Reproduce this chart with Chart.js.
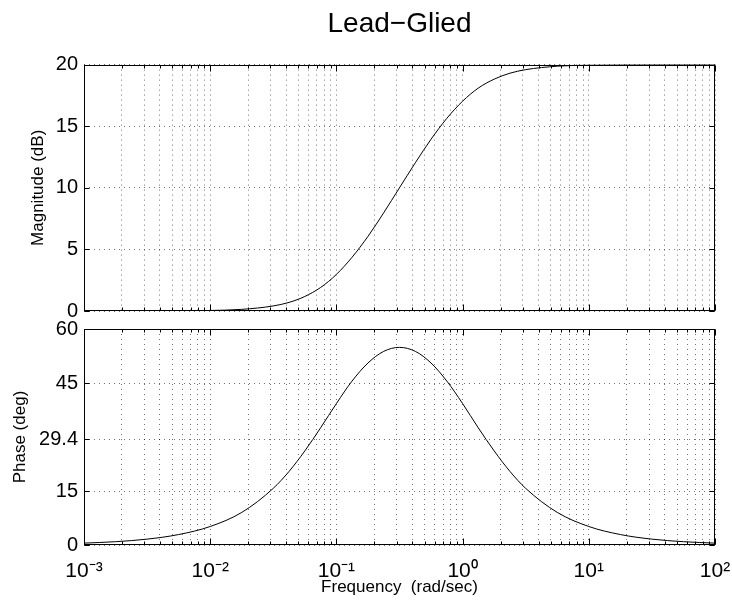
<!DOCTYPE html>
<html>
<head>
<meta charset="utf-8">
<script src="https://cdn.jsdelivr.net/npm/chart.js@4/dist/chart.umd.min.js"></script>
<style>
  body { margin: 0; background: #fff; }
  .panel { position: absolute; left: 0; }
</style>
</head>
<body>
<div class="panel" style="top:0"><canvas id="mag" width="732" height="326"></canvas></div>
<div class="panel" style="top:312px"><canvas id="phase" width="732" height="296"></canvas></div>
<script>
// frequency points (rad/sec)
const freq = [0.001, 0.00178, 0.00316, 0.00562, 0.01, 0.0178, 0.0316, 0.0422, 0.0562, 0.075,
  0.1, 0.133, 0.178, 0.237, 0.316, 0.422, 0.562, 0.75, 1, 1.33,
  1.78, 2.37, 3.16, 5.62, 10, 17.8, 31.6, 56.2, 100];
const magnitude = [0.0004, 0.0014, 0.0043, 0.014, 0.043, 0.134, 0.41, 0.70, 1.18, 1.91,
  2.97, 4.36, 6.06, 7.97, 10.0, 12.03, 13.94, 15.64, 17.03, 18.09,
  18.82, 19.30, 19.59, 19.87, 19.96, 19.99, 20.0, 20.0, 20.0];
const phase = [0.52, 0.92, 1.63, 2.90, 5.14, 9.06, 15.74, 20.46, 26.13, 32.57,
  39.29, 45.53, 50.56, 53.79, 54.90, 53.79, 50.56, 45.53, 39.29, 32.57,
  26.13, 20.46, 15.74, 9.06, 5.14, 2.90, 1.63, 0.92, 0.52];

const magTicks = [0, 5, 10, 15, 20];
const phaseTicks = [0, 15, 29.4, 45, 60];
const decades = [-3, -2, -1, 0, 1, 2];

const FONT = "'Liberation Sans', Arial, Helvetica, sans-serif";
const SUP = { "-": "\u207B", "0": "\u2070", "1": "\u00B9", "2": "\u00B2", "3": "\u00B3" };

// all log ticks: 1..9 x 10^k
const logTicks = [];
decades.forEach((d, i) => {
  const last = i === decades.length - 1;
  for (let m = 1; m <= (last ? 1 : 9); m++) logTicks.push(m * Math.pow(10, d));
});
const isDecade = (v) => Math.abs(Math.log10(v) - Math.round(Math.log10(v))) < 1e-6;

// labels may hang over the plot edges, don't let them shrink the plot
const noPad = (scale) => {
  scale.paddingTop = 0; scale.paddingBottom = 0;
  scale.paddingLeft = 0; scale.paddingRight = 0;
};

// box round the plot area + inward tick marks, like matlab
const boxPlugin = {
  id: "box",
  afterDraw(chart) {
    const { ctx, chartArea: a, scales } = chart;
    const L = Math.round(a.left) + 0.5, R = Math.round(a.right) - 0.5;
    const T = Math.round(a.top) + 0.5, B = Math.round(a.bottom) - 0.5;
    ctx.save();
    ctx.strokeStyle = "#000";
    ctx.lineWidth = 1;
    ctx.setLineDash([]);
    ctx.beginPath();
    scales.x.ticks.forEach((t) => {
      const px = Math.round(scales.x.getPixelForValue(t.value)) + 0.5;
      const len = isDecade(t.value) ? 6 : 3;
      ctx.moveTo(px, B); ctx.lineTo(px, B - len);
      ctx.moveTo(px, T); ctx.lineTo(px, T + len);
    });
    scales.y.ticks.forEach((t) => {
      const py = Math.round(scales.y.getPixelForValue(t.value)) + 0.5;
      ctx.moveTo(L, py); ctx.lineTo(L + 5, py);
      ctx.moveTo(R, py); ctx.lineTo(R - 5, py);
    });
    ctx.stroke();
    ctx.strokeRect(L, T, R - L, B - T);
    ctx.restore();
  }
};

function xScale(showLabels) {
  return {
    type: "logarithmic",
    min: 0.001,
    max: 100,
    afterBuildTicks: (scale) => { scale.ticks = logTicks.map((v) => ({ value: v })); },
    afterFit: (scale) => { scale.height = showLabels ? 63 : 0; noPad(scale); },
    grid: { color: "rgba(0,0,0,0.55)", lineWidth: 1, drawTicks: false },
    border: { display: false, dash: [1, 4] },
    ticks: {
      display: showLabels,
      autoSkip: false,
      maxRotation: 0,
      padding: 14,
      color: "#000",
      font: { family: FONT, size: 21 },
      callback: (v) => {
        if (!isDecade(v)) return "";
        const e = String(Math.round(Math.log10(v)));
        return "10" + e.split("").map((c) => SUP[c]).join("");
      }
    },
    title: {
      display: showLabels,
      text: "Frequency  (rad/sec)",
      color: "#000",
      font: { family: FONT, size: 17 },
      padding: { top: 2, bottom: 10 }
    }
  };
}

function yScale(max, ticks, label, titlePad) {
  return {
    min: 0,
    max: max,
    afterBuildTicks: (scale) => { scale.ticks = ticks.map((v) => ({ value: v })); },
    afterFit: (scale) => { scale.width = 84; noPad(scale); },
    grid: { color: "rgba(0,0,0,0.55)", lineWidth: 1, drawTicks: false },
    border: { display: false, dash: [1, 4] },
    ticks: {
      padding: 6,
      color: "#000",
      font: { family: FONT, size: 20 },
      callback: (v) => String(v)
    },
    title: {
      display: true,
      text: label,
      color: "#000",
      font: { family: FONT, size: 17 },
      padding: { top: titlePad, bottom: 0 }
    }
  };
}

function lineData(values) {
  return {
    datasets: [{
      data: freq.map((f, i) => ({ x: f, y: values[i] })),
      borderColor: "#000",
      borderWidth: 1,
      pointRadius: 0,
      fill: false,
      cubicInterpolationMode: "monotone"
    }]
  };
}

new Chart(document.getElementById("mag"), {
  type: "line",
  data: lineData(magnitude),
  plugins: [boxPlugin],
  options: {
    responsive: false,
    animation: false,
    layout: { padding: { left: 0, right: 17, top: 0, bottom: 15 } },
    plugins: {
      legend: { display: false },
      tooltip: { enabled: false },
      title: {
        display: true,
        fullSize: false,
        text: "Lead\u2212Glied",
        color: "#000",
        font: { family: FONT, size: 28, weight: "normal" },
        padding: { top: 7, bottom: 24 }
      }
    },
    scales: {
      x: xScale(false),
      y: yScale(20, magTicks, "Magnitude (dB)", 28)
    }
  }
});

new Chart(document.getElementById("phase"), {
  type: "line",
  data: lineData(phase),
  plugins: [boxPlugin],
  options: {
    responsive: false,
    animation: false,
    layout: { padding: { left: 0, right: 17, top: 17, bottom: 0 } },
    plugins: {
      legend: { display: false },
      tooltip: { enabled: false }
    },
    scales: {
      x: xScale(true),
      y: yScale(60, phaseTicks, "Phase (deg)", 10)
    }
  }
});
</script>
</body>
</html>
